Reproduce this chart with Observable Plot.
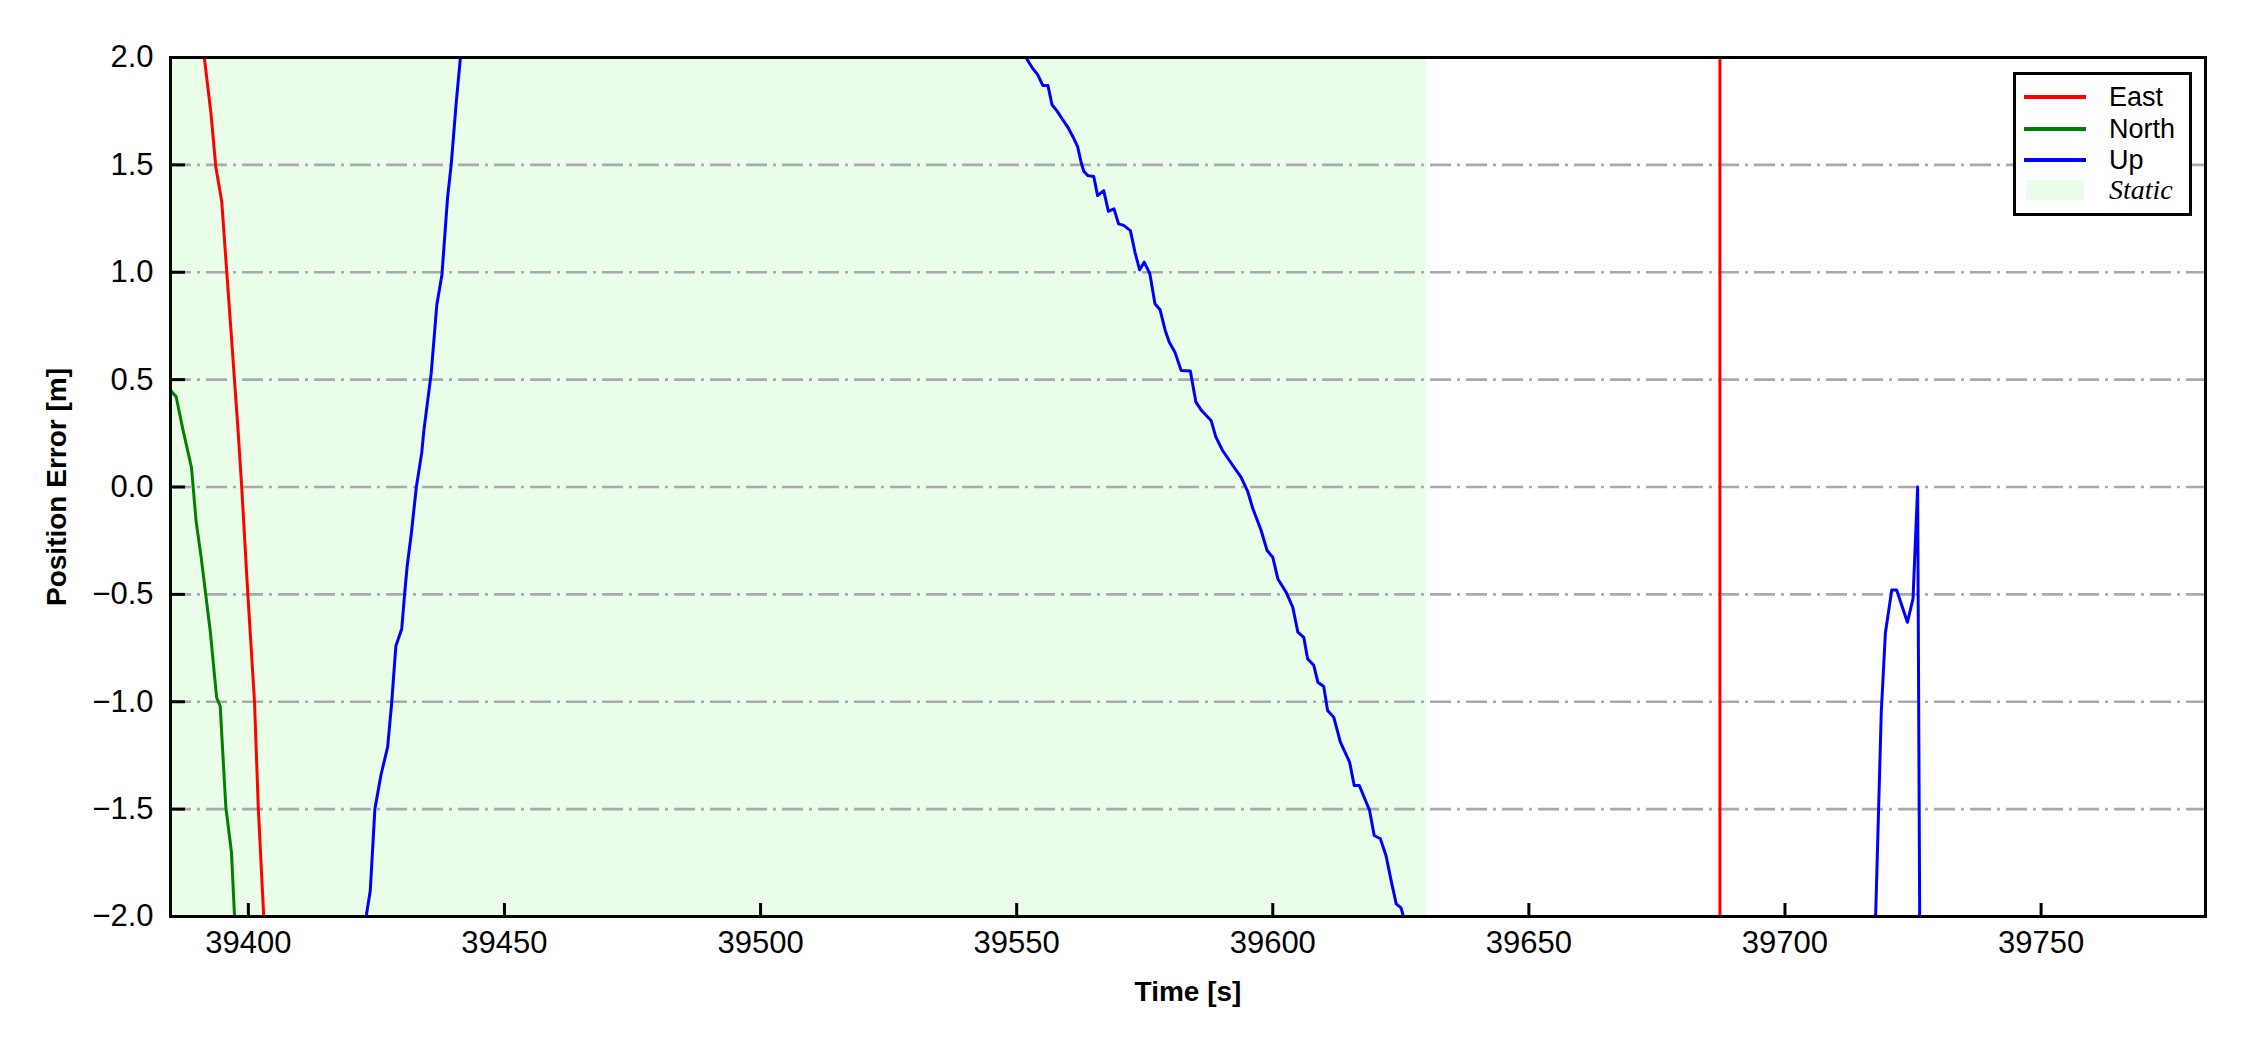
<!DOCTYPE html>
<html>
<head>
<meta charset="utf-8">
<script src="https://cdn.jsdelivr.net/npm/d3@7"></script>
<script src="https://cdn.jsdelivr.net/npm/@observablehq/plot@0.6"></script>
<style>
  html, body { margin: 0; padding: 0; background: #fff; }
  #wrap { position: relative; width: 2250px; height: 1050px; font-family: "Liberation Sans", Arial, sans-serif; }
  #legend { position: absolute; left: 2013px; top: 72px; width: 173px; height: 138px; border: 3px solid #000; background: #fff; }
  .row { position: absolute; left: 0; height: 0; }
  .sw { position: absolute; left: 8px; width: 62px; height: 4px; margin-top: -2px; }
  .lab { position: absolute; left: 93px; transform: translateY(-50%); font-size: 27px; line-height: 1; white-space: nowrap; color: #000; }
  .patch { position: absolute; left: 10px; width: 58px; height: 20px; margin-top: -10px; }
</style>
</head>
<body>
<div id="wrap"></div>
<script>
// ---- data ----
const seriesNames = ["East", "North", "Up"];
const seriesColors = ["#ff0000", "#008000", "#0000ff"];
const staticLabel = "Static";
const staticColor = "#e9fde9";
const staticStart = [39384.8];
const staticEnd = [39630];

const xDomain = [39384.8, 39782.1];
const yDomain = [-2, 2];
const xTicks = [39400, 39450, 39500, 39550, 39600, 39650, 39700, 39750];
const yTicks = [-2.0, -1.5, -1.0, -0.5, 0.0, 0.5, 1.0, 1.5, 2.0];

// East
const eastT = [39391.4, 39392.7, 39393.65, 39394.8, 39396.6, 39398.0, 39398.7, 39399.9, 39401.2, 39401.95, 39403.0,
  null, 39687.3, 39687.3];
const eastV = [2.00, 1.74, 1.49, 1.33, 0.73, 0.26, 0.00, -0.50, -1.00, -1.50, -2.00,
  null, -2.00, 2.00];

// North
const northT = [39384.8, 39385.9, 39387.2, 39388.9, 39389.8, 39390.8, 39392.6, 39393.8, 39394.5, 39395.6, 39396.7, 39397.3];
const northV = [0.45, 0.42, 0.27, 0.09, -0.16, -0.33, -0.68, -0.98, -1.02, -1.49, -1.70, -2.00];

// Up
const upT = [
  39423.0, 39423.8, 39424.7, 39425.9, 39427.2, 39428.0, 39428.8, 39429.95, 39430.5, 39431.0, 39431.8, 39432.8,
  39433.85, 39434.25, 39435.0, 39435.7, 39436.8, 39437.8, 39438.9, 39439.6, 39440.55, 39441.4,
  null,
  39551.8, 39553.1, 39554.1, 39555.1, 39556.1, 39556.9, 39557.9, 39559.0, 39560.0, 39561.0, 39561.9, 39562.6,
  39563.1, 39563.9, 39565.05, 39565.8, 39567.0, 39567.9, 39569.0, 39569.9, 39570.9, 39572.2, 39573.1, 39574.0,
  39574.9, 39576.0, 39577.0, 39578.0, 39579.0, 39579.8, 39580.9, 39582.1, 39583.9, 39585.0, 39586.1, 39587.95,
  39588.9, 39590.2, 39592.2, 39593.8, 39595.1, 39596.1, 39597.7, 39598.9, 39600.0, 39601.0, 39602.6, 39603.9,
  39604.9, 39606.05, 39606.8, 39608.0, 39608.8, 39609.95, 39610.7, 39611.9, 39613.2, 39615.0, 39615.9, 39616.9,
  39618.9, 39619.8, 39621.0, 39622.1, 39623.1, 39624.1, 39625.05, 39625.5,
  null,
  39717.7, 39718.8, 39719.6, 39720.85, 39721.8, 39723.9, 39725.0, 39725.9, 39726.3
];
const upV = [
  -2.00, -1.88, -1.50, -1.34, -1.21, -1.00, -0.74, -0.66, -0.50, -0.37, -0.22, 0.00,
  0.16, 0.26, 0.40, 0.53, 0.85, 0.99, 1.35, 1.50, 1.78, 2.00,
  null,
  2.00, 1.95, 1.92, 1.87, 1.87, 1.78, 1.75, 1.71, 1.675, 1.63, 1.585, 1.51,
  1.47, 1.45, 1.446, 1.357, 1.38, 1.284, 1.295, 1.225, 1.218, 1.194, 1.093, 1.011,
  1.047, 0.993, 0.853, 0.825, 0.729, 0.674, 0.628, 0.543, 0.540, 0.395, 0.356, 0.310,
  0.232, 0.170, 0.100, 0.046, -0.02, -0.10, -0.20, -0.296, -0.327, -0.428, -0.49, -0.56,
  -0.676, -0.70, -0.80, -0.83, -0.909, -0.929, -1.041, -1.072, -1.188, -1.281, -1.39, -1.39,
  -1.506, -1.623, -1.638, -1.716, -1.832, -1.941, -1.96, -2.00,
  null,
  -2.00, -1.05, -0.68, -0.48, -0.48, -0.63, -0.52, 0.00, -2.00
];

// ---- build table ----
function toRows(name, T, V) {
  return T.map((t, i) => ({series: name, t: t, v: V[i] == null ? NaN : V[i]}));
}
const rows = [
  ...toRows("East", eastT, eastV),
  ...toRows("North", northT, northV),
  ...toRows("Up", upT, upV)
];
const spans = staticStart.map((s, i) => ({start: s, end: staticEnd[i]}));

const W = 2250, H = 1050;
const mL = 170, mR = 45, mT = 57, mB = 134;
const innerW = W - mL - mR, innerH = H - mT - mB;
const font = "Liberation Sans, Arial, sans-serif";

const chart = Plot.plot({
  width: W,
  height: H,
  marginLeft: mL,
  marginRight: mR,
  marginTop: mT,
  marginBottom: mB,
  style: {fontFamily: font, fontSize: "31px", color: "#000", background: "#fff"},
  x: {domain: xDomain, axis: null},
  y: {domain: yDomain, axis: null},
  color: {domain: seriesNames, range: seriesColors},
  marks: [
    Plot.rect(spans, {x1: "start", x2: "end", fill: staticColor, clip: true}),
    Plot.ruleY(yTicks, {stroke: "#aaaaaa", strokeWidth: 2.6, strokeDasharray: "21,6,3,6"}),
    Plot.line(rows, {x: "t", y: "v", z: "series", stroke: "series", strokeWidth: 3, clip: true, strokeLinecap: "butt"}),
    Plot.ruleY(yTicks, {stroke: "#000", strokeWidth: 3, insetRight: innerW - 15}),
    Plot.ruleX(xTicks, {stroke: "#000", strokeWidth: 3, insetTop: innerH - 13}),
    Plot.axisX(xTicks, {tickSize: 0, tickPadding: 14, tickFormat: d3.format("d"), label: null, fontSize: 31}),
    Plot.axisY(yTicks, {tickSize: 0, tickPadding: 17, tickFormat: d3.format(".1f"), label: null, fontSize: 31}),
    Plot.text(["Time [s]"], {frameAnchor: "bottom", dy: 76, textAnchor: "middle", lineAnchor: "middle", fontWeight: "bold", fontSize: 28}),
    Plot.text(["Position Error [m]"], {frameAnchor: "left", dx: -113, rotate: -90, textAnchor: "middle", lineAnchor: "middle", fontWeight: "bold", fontSize: 28}),
    Plot.frame({stroke: "#000", strokeWidth: 3})
  ]
});

const wrap = document.getElementById("wrap");
wrap.appendChild(chart);

// legend (HTML overlay inside the plot area)
const legend = document.createElement("div");
legend.id = "legend";
const rowY = [22, 54, 85, 115];
seriesNames.forEach((name, i) => {
  const r = document.createElement("div");
  r.className = "row";
  r.style.top = rowY[i] + "px";
  const sw = document.createElement("div");
  sw.className = "sw";
  sw.style.background = seriesColors[i];
  const lab = document.createElement("div");
  lab.className = "lab";
  lab.textContent = name;
  r.appendChild(sw); r.appendChild(lab);
  legend.appendChild(r);
});
{
  const r = document.createElement("div");
  r.className = "row";
  r.style.top = rowY[3] + "px";
  const p = document.createElement("div");
  p.className = "patch";
  p.style.background = staticColor;
  const lab = document.createElement("div");
  lab.className = "lab";
  lab.style.fontFamily = "Liberation Serif, Times New Roman, serif";
  lab.style.fontStyle = "italic";
  lab.style.fontSize = "28px";
  lab.textContent = staticLabel;
  r.appendChild(p); r.appendChild(lab);
  legend.appendChild(r);
}
wrap.appendChild(legend);
</script>
</body>
</html>
